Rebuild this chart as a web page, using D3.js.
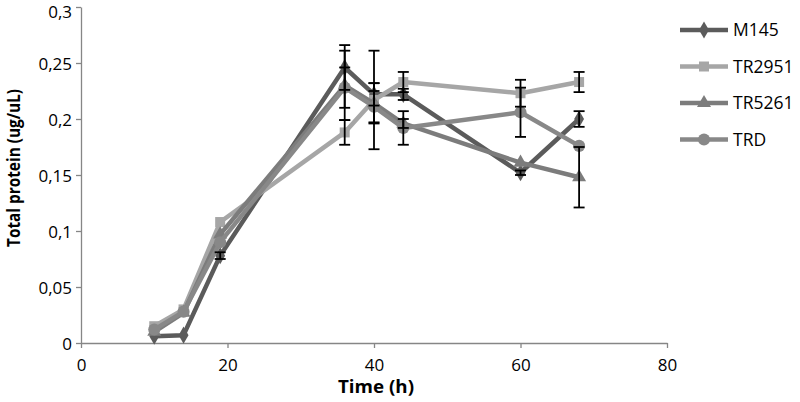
<!DOCTYPE html>
<html><head><meta charset="utf-8">
<script src="https://cdn.jsdelivr.net/npm/d3@7"></script>
<style>
body{margin:0;background:#fff;}
svg{display:block;font-family:"Open Sans",sans-serif;}
</style></head>
<body><svg id="c" width="800" height="402"></svg>
<script>
const times = [10, 14, 19, 36, 40, 44, 60, 68];
const seriesNames = ["M145", "TR2951", "TR5261", "TRD"];
const m145 = [0.006, 0.007, 0.078, 0.246, 0.222, 0.222, 0.152, 0.200];
const tr2951 = [0.015, 0.030, 0.108, 0.188, 0.217, 0.233, 0.223, 0.233];
const tr5261 = [0.010, 0.027, 0.097, 0.230, 0.214, 0.196, 0.161, 0.148];
const trd = [0.012, 0.028, 0.090, 0.228, 0.211, 0.192, 0.206, 0.176];
const m145Err = [0.000, 0.000, 0.003, 0.020, 0.010, 0.005, 0.002, 0.007];
const tr2951Err = [0.000, 0.000, 0.000, 0.011, 0.044, 0.009, 0.012, 0.009];
const tr5261Err = [0.000, 0.000, 0.000, 0.031, 0.018, 0.004, 0.000, 0.027];
const trdErr = [0.000, 0.000, 0.000, 0.018, 0.014, 0.015, 0.022, 0.000];
const xTicks = [0, 20, 40, 60, 80];
const xTickLabels = ["0", "20", "40", "60", "80"];
const yTicks = [0, 0.05, 0.1, 0.15, 0.2, 0.25, 0.3];
const yTickLabels = ["0", "0,05", "0,1", "0,15", "0,2", "0,25", "0,3"];
const xTitle = "Time (h)";
const yTitle = "Total protein (ug/uL)";

const values = [m145, tr2951, tr5261, trd];
const errs = [m145Err, tr2951Err, tr5261Err, trdErr];
const colors = ["#5b5b5b", "#a6a6a6", "#7c7c7c", "#888888"];
const symbols = [d3.symbolDiamond, d3.symbolSquare, d3.symbolTriangle, d3.symbolCircle];
const symSizes = [85, 100, 85, 115];

const svg = d3.select("#c");
const x = d3.scaleLinear().domain([0, 80]).range([81, 667]);
const y = d3.scaleLinear().domain([0, 0.3]).range([343, 7]);

const axisColor = "#868686";
const gx = svg.append("g").attr("transform", `translate(0,${y(0)})`)
  .call(d3.axisBottom(x).tickValues(xTicks).tickFormat((d, i) => xTickLabels[i]).tickSize(5).tickSizeOuter(0));
const gy = svg.append("g").attr("transform", `translate(${x(0)},0)`)
  .call(d3.axisLeft(y).tickValues(yTicks).tickFormat((d, i) => yTickLabels[i]).tickSize(5).tickSizeOuter(0));
[gx, gy].forEach(g => {
  g.select(".domain").attr("stroke", axisColor).attr("stroke-width", 1.3);
  g.selectAll(".tick line").attr("stroke", axisColor).attr("stroke-width", 1.3);
  g.selectAll(".tick text").attr("fill", "#000").attr("font-size", 17).attr("font-family", "Open Sans, sans-serif");
});
gx.selectAll(".tick text").attr("dy", null).attr("y", 28);
gy.selectAll(".tick text").attr("x", -9).attr("dy", "0.36em");
gy.selectAll(".tick").filter(d => d === 0.3).select("text").attr("dy", "0.62em");

svg.append("text").attr("x", 376).attr("y", 393).attr("text-anchor", "middle")
  .attr("font-weight", "bold").attr("font-size", 17).attr("textLength", 76).attr("lengthAdjust", "spacingAndGlyphs").text(xTitle);
svg.append("text").attr("transform", `translate(20,168) rotate(-90)`).attr("text-anchor", "middle")
  .attr("font-weight", "bold").attr("font-size", 17).attr("textLength", 158).attr("lengthAdjust", "spacingAndGlyphs").text(yTitle);

const line = d3.line().x((d, i) => x(times[i])).y(d => y(d));
values.forEach((vals, s) => {
  const g = svg.append("g");
  g.append("path").datum(vals).attr("d", line).attr("fill", "none")
    .attr("stroke", colors[s]).attr("stroke-width", 4.5).attr("stroke-linejoin", "round");
  g.selectAll("path.m").data(vals).enter().append("path").attr("class", "m")
    .attr("transform", (d, i) => `translate(${x(times[i])},${y(d)})`)
    .attr("d", d3.symbol().type(symbols[s]).size(symSizes[s])).attr("fill", colors[s]);
});

const eb = svg.append("g").attr("stroke", "#000").attr("stroke-width", 1.8);
values.forEach((vals, s) => {
  vals.forEach((v, i) => {
    const e = errs[s][i];
    if (e <= 0) return;
    const cx = x(times[i]);
    eb.append("line").attr("x1", cx).attr("x2", cx).attr("y1", y(v + e)).attr("y2", y(v - e));
    [v + e, v - e].forEach(t => {
      eb.append("line").attr("x1", cx - 5.5).attr("x2", cx + 5.5).attr("y1", y(t)).attr("y2", y(t));
    });
  });
});

const leg = svg.append("g");
seriesNames.forEach((n, s) => {
  const ly = 30 + s * 36.5;
  leg.append("line").attr("x1", 680).attr("x2", 728).attr("y1", ly).attr("y2", ly)
    .attr("stroke", colors[s]).attr("stroke-width", 4.5);
  leg.append("path").attr("transform", `translate(704,${ly})`)
    .attr("d", d3.symbol().type(symbols[s]).size(symSizes[s])).attr("fill", colors[s]);
  leg.append("text").attr("x", 733).attr("y", ly).attr("dy", "0.36em").attr("font-size", 17.5).attr("fill", "#000").text(n);
});
</script></body></html>
